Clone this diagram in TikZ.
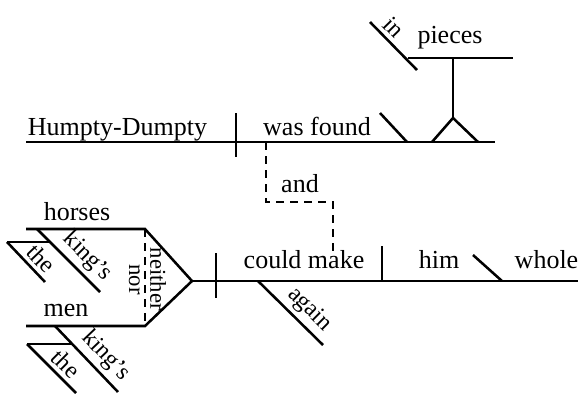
\documentclass[tikz,border=0pt]{standalone}
\usepackage{fontspec}
\setmainfont{Liberation Serif}
\usepackage{tikz}
\definecolor{DiagInk}{HTML}{000000}
\tikzset{
  diagline/.style={draw=DiagInk,line width=1.9pt},
  dashlink/.style={draw=DiagInk,line width=1.9pt,dash pattern=on 6pt off 4.5pt},
  wordlabel/.style={anchor=base,inner sep=0pt,font=\fontsize{19.5}{22}\selectfont,text=DiagInk},
  slantlabel/.style={sloped,above,inner sep=3pt,font=\fontsize{18}{20}\selectfont,text=DiagInk},
  turnlabel/.style={sloped,inner sep=3pt,font=\fontsize{17}{20}\selectfont,text=DiagInk}
}
\begin{document}
\begin{tikzpicture}[x=0.75pt,y=-0.75pt]
\useasboundingbox (0,0) rectangle (583,394);
% upper clause
\coordinate (upL) at (26,142);
\coordinate (upR) at (495,142);
\coordinate (upDivT) at (236,113);
\coordinate (upDivB) at (236,157);
\draw[diagline] (upL) -- (upR);
\draw[diagline] (upDivT) -- (upDivB);
\node[wordlabel] (humpty) at (117.5,135) {Humpty-Dumpty};
\node[wordlabel] (found) at (317,135) {was found};
\coordinate (upCmpT) at (380,113);
\coordinate (upCmpB) at (407,142);
\draw[diagline] (upCmpT) -- (upCmpB);
% pedestal with the phrase
\coordinate (pedL) at (432,142);
\coordinate (pedTop) at (453,118);
\coordinate (pedR) at (478,142);
\coordinate (pcL) at (408,58);
\coordinate (pcMid) at (453,58);
\coordinate (pcR) at (513,58);
\coordinate (inT) at (370,22);
\coordinate (inB) at (417,70);
\draw[diagline] (pedL) -- (pedTop) -- (pedR);
\draw[diagline] (pedTop) -- (pcMid);
\draw[diagline] (pcL) -- (pcR);
\draw[diagline] (inT) -- node[slantlabel,pos=0.3] (inword) {in} (inB);
\node[wordlabel] (pieces) at (450,43) {pieces};
% joining the two clauses
\coordinate (andA) at (266,142);
\coordinate (andB) at (266,202);
\coordinate (andC) at (333,202);
\coordinate (andD) at (333,257);
\draw[dashlink] (andA) -- (andB) -- (andC) -- (andD);
\node[wordlabel] (andword) at (300,192) {and};
% compound subject
\coordinate (hsL) at (26,229);
\coordinate (hsR) at (145,229);
\coordinate (mnL) at (26,326);
\coordinate (mnR) at (145,326);
\coordinate (fork) at (192,281);
\coordinate (lowR) at (578,281);
\draw[diagline] (hsL) -- (hsR) -- (fork) -- (mnR) -- (mnL);
\draw[diagline] (fork) -- (lowR);
\draw[dashlink] (hsR) -- node[turnlabel,above,pos=0.52] (neither) {neither}
  node[turnlabel,below,pos=0.52] (nor) {nor} (mnR);
\node[wordlabel] (horses) at (77,220) {horses};
\node[wordlabel] (men) at (66,316) {men};
% modifiers of horses
\coordinate (hkT) at (37,229);
\coordinate (hkB) at (100,292);
\coordinate (htA) at (50,242);
\coordinate (htL) at (7,242);
\coordinate (htB) at (45,282);
\draw[diagline] (hkT) -- node[slantlabel,pos=0.62] (hking) {king’s} (hkB);
\draw[diagline] (htA) -- (htL);
\draw[diagline] (htL) -- node[slantlabel,pos=0.64] (hthe) {the} (htB);
% modifiers of men
\coordinate (mkT) at (55,326);
\coordinate (mkB) at (118,392);
\coordinate (mtA) at (72,344);
\coordinate (mtL) at (27,344);
\coordinate (mtB) at (76,393);
\draw[diagline] (mkT) -- node[slantlabel,pos=0.62] (mking) {king’s} (mkB);
\draw[diagline] (mtA) -- (mtL);
\draw[diagline] (mtL) -- node[slantlabel,pos=0.6] (mthe) {the} (mtB);
% lower predicate
\coordinate (lowDivT) at (216,253);
\coordinate (lowDivB) at (216,298);
\coordinate (objT) at (382,246);
\coordinate (objB) at (382,281);
\coordinate (lowCmpT) at (473,255);
\coordinate (lowCmpB) at (502,281);
\coordinate (agT) at (258,281);
\coordinate (agB) at (323,345);
\draw[diagline] (lowDivT) -- (lowDivB);
\draw[diagline] (objT) -- (objB);
\draw[diagline] (lowCmpT) -- (lowCmpB);
\draw[diagline] (agT) -- node[slantlabel,pos=0.62] (again) {again} (agB);
\node[wordlabel] (make) at (304,268) {could make};
\node[wordlabel] (him) at (439,268) {him};
\node[wordlabel] (whole) at (546.5,268) {whole};
\end{tikzpicture}
\end{document}
